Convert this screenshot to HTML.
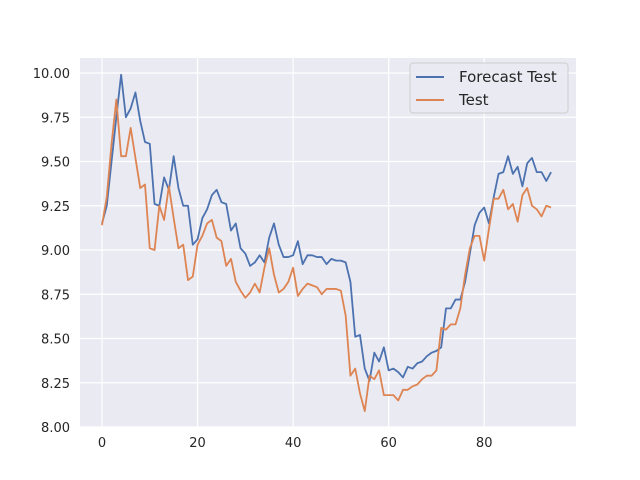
<!DOCTYPE html>
<html><head><meta charset="utf-8"><style>
body{margin:0;background:#fff}
svg{display:block;font-family:"DejaVu Sans","Liberation Sans",sans-serif}
</style></head><body>
<svg id="chart" width="640" height="480" viewBox="0 0 640 480">
<rect x="80" y="58" width="496" height="369" fill="#eaeaf2"/>
<g id="grid"></g><g id="series"></g><g id="ticks"></g>
<g>
<rect x="410" y="63" width="158" height="50" rx="3" fill="#eaeaf2" stroke="#ccc" stroke-width="1" opacity="0.9"/>
<line x1="416" x2="444" y1="77" y2="77" stroke="#4c72b0" stroke-width="2"/>
<text x="459" y="82" font-size="15" fill="#262626">Forecast Test</text>
<line x1="416" x2="444" y1="100" y2="100" stroke="#dd8452" stroke-width="2"/>
<text x="459" y="105" font-size="15" fill="#262626">Test</text>
</g>
</svg>
<script>
const forecast=[9.15,9.25,9.5,9.75,9.99,9.75,9.8,9.89,9.73,9.61,9.6,9.26,9.25,9.41,9.34,9.53,9.35,9.25,9.25,9.03,9.06,9.18,9.23,9.31,9.34,9.27,9.26,9.11,9.15,9.01,8.98,8.91,8.93,8.97,8.93,9.07,9.15,9.03,8.96,8.96,8.97,9.05,8.92,8.97,8.97,8.96,8.96,8.92,8.95,8.94,8.94,8.93,8.82,8.51,8.52,8.33,8.26,8.42,8.37,8.45,8.32,8.33,8.31,8.28,8.34,8.33,8.36,8.37,8.40,8.42,8.43,8.45,8.67,8.67,8.72,8.72,8.82,8.98,9.14,9.21,9.24,9.15,9.30,9.43,9.44,9.53,9.43,9.47,9.36,9.49,9.52,9.44,9.44,9.39,9.44];
const test=[9.14,9.3,9.6,9.85,9.53,9.53,9.69,9.52,9.35,9.37,9.01,9.0,9.25,9.17,9.36,9.18,9.01,9.03,8.83,8.85,9.03,9.08,9.15,9.17,9.07,9.05,8.91,8.95,8.82,8.77,8.73,8.76,8.81,8.76,8.9,9.01,8.86,8.76,8.78,8.82,8.9,8.74,8.78,8.81,8.8,8.79,8.75,8.78,8.78,8.78,8.77,8.63,8.29,8.33,8.19,8.09,8.29,8.27,8.32,8.18,8.18,8.18,8.15,8.21,8.21,8.23,8.24,8.27,8.29,8.29,8.32,8.56,8.55,8.58,8.58,8.67,8.86,9.01,9.08,9.08,8.94,9.12,9.29,9.29,9.34,9.23,9.26,9.16,9.31,9.35,9.25,9.23,9.19,9.25,9.24];
const xTicks=[0,20,40,60,80];
const yTicks=[8.00,8.25,8.50,8.75,9.00,9.25,9.50,9.75,10.00];
const X=v=>102+v*4.7775, Y=v=>427-(v-8)*177;
const NS="http://www.w3.org/2000/svg";
const grid=document.getElementById('grid'),ticks=document.getElementById('ticks'),ser=document.getElementById('series');
function mk(tag,at,p){const e=document.createElementNS(NS,tag);for(const k in at)e.setAttribute(k,at[k]);p.appendChild(e);return e;}
xTicks.forEach(t=>{
 const l=mk('line',{x1:X(t),x2:X(t),y1:58,y2:427,stroke:'#fff','stroke-width':1.2},grid);
 
 
 const tx=mk('text',{x:X(t),y:447,'text-anchor':'middle','font-size':13,fill:'#262626'},ticks);
 tx.textContent=t;
 
 
});
yTicks.forEach(t=>{
 const l=mk('line',{x1:80,x2:576,y1:Y(t),y2:Y(t),stroke:'#fff','stroke-width':1.2},grid);
 
 
 const tx=mk('text',{x:70,y:Y(t)+5,'text-anchor':'end','font-size':13,fill:'#262626'},ticks);
 tx.textContent=t.toFixed(2);
 
 
});
function line(d,c,n){
 const p=mk('polyline',{points:d.map((v,i)=>X(i)+','+Y(v)).join(' '),fill:'none',stroke:c,'stroke-width':1.8,'stroke-linejoin':'round'},ser);
 
 
}
line(forecast,'#4c72b0','forecast-test-line');
line(test,'#dd8452','test-line');
</script>
</body></html>
